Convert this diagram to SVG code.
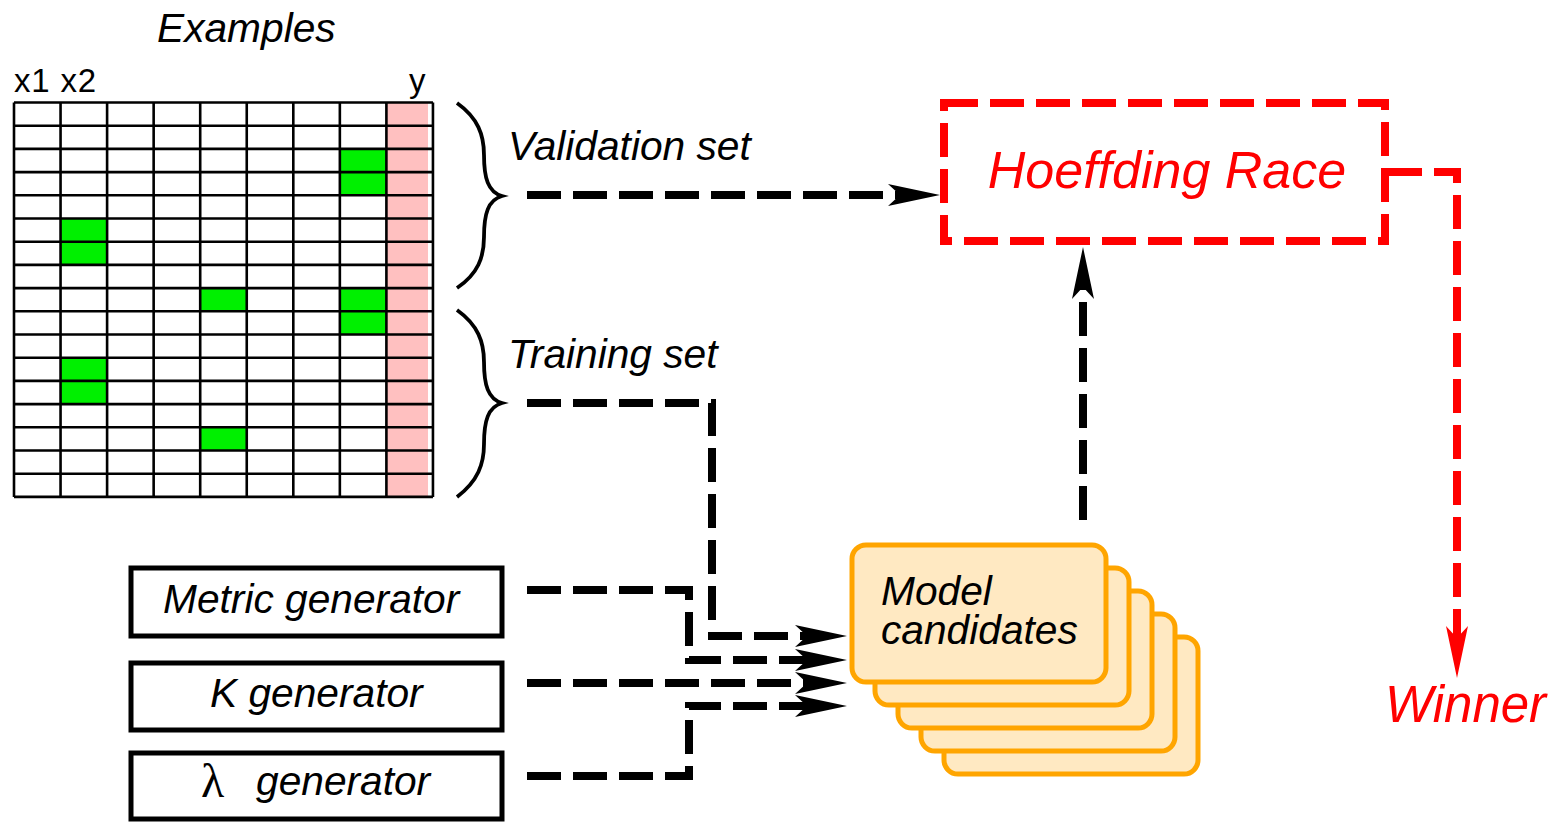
<svg xmlns="http://www.w3.org/2000/svg" width="1555" height="823" viewBox="0 0 1555 823">
<style>
text { font-family: "Liberation Sans", Arial, sans-serif; }
.lbl { font-size: 40.7px; font-style: italic; fill: #000; }
.red { font-style: italic; fill: #ff0000; }
.hdr { font-size: 33px; fill: #000; letter-spacing: 0.8px; }
.grid { stroke: #000; stroke-width: 2.6; fill: none; }
.gen { fill: #fff; stroke: #000; stroke-width: 5; }
.card { fill: #ffe9c2; stroke: #ffa500; stroke-width: 5; }
.brace { fill: none; stroke: #000; stroke-width: 3.8; }
.conn { fill: none; stroke: #000; stroke-width: 8; stroke-dasharray: 34 12; }
.connr { fill: none; stroke: #ff0000; stroke-width: 8; stroke-dasharray: 34 12; }
</style>
<defs>
<marker id="ah" viewBox="-14 -13 56 26" markerWidth="56" markerHeight="26" refX="0" refY="0" orient="auto" markerUnits="userSpaceOnUse">
<path d="M40,0 L-12,-11 L0,0 L-12,11 Z" fill="#000"/>
</marker>
<marker id="ahr" viewBox="-14 -13 56 26" markerWidth="56" markerHeight="26" refX="0" refY="0" orient="auto" markerUnits="userSpaceOnUse">
<path d="M40,0 L-12,-11 L0,0 L-12,11 Z" fill="#ff0000"/>
</marker>
</defs>
<rect width="1555" height="823" fill="#fff"/>

<g id="examples">
<text class="lbl" x="157" y="42">Examples</text>
<text class="hdr" x="14" y="92">x1 x2</text>
<text class="hdr" x="409" y="92">y</text>
<rect x="386.4" y="102.5" width="41.6" height="394.4" fill="#ffc0c0"/>
<g fill="#00f000">
<rect x="339.85" y="148.9" width="46.55" height="46.4"/>
<rect x="60.55" y="218.5" width="46.55" height="46.4"/>
<rect x="200.2" y="288.1" width="46.55" height="23.2"/>
<rect x="339.85" y="288.1" width="46.55" height="46.4"/>
<rect x="60.55" y="357.7" width="46.55" height="46.4"/>
<rect x="200.2" y="427.3" width="46.55" height="23.2"/>
</g>
<path class="grid" d="M14,102.5V496.9M60.55,102.5V496.9M107.1,102.5V496.9M153.65,102.5V496.9M200.2,102.5V496.9M246.75,102.5V496.9M293.3,102.5V496.9M339.85,102.5V496.9M386.4,102.5V496.9M432.95,102.5V496.9
M14,102.5H432.95M14,125.7H432.95M14,148.9H432.95M14,172.1H432.95M14,195.3H432.95M14,218.5H432.95M14,241.7H432.95M14,264.9H432.95M14,288.1H432.95M14,311.3H432.95M14,334.5H432.95M14,357.7H432.95M14,380.9H432.95M14,404.1H432.95M14,427.3H432.95M14,450.5H432.95M14,473.7H432.95M14,496.9H432.95"/>
</g>

<g id="validation-set">
<path class="brace" d="M457,103 C478,118 484,135 484,155 C484,178 488,192 502,196 C488,200 484,214 484,237 C484,257 478,274 457,288"/>
<text class="lbl" x="508" y="160">Validation set</text>
</g>

<g id="training-set">
<path class="brace" d="M457,310 C478,325 484,342 484,362 C484,385 488,399 502,403 C488,407 484,421 484,444 C484,464 478,481 457,497"/>
<text class="lbl" x="508" y="368">Training set</text>
</g>

<g id="metric-generator">
<rect class="gen" x="131" y="568" width="371" height="68"/>
<text class="lbl" x="163" y="613">Metric generator</text>
</g>
<g id="k-generator">
<rect class="gen" x="131" y="663" width="371" height="67"/>
<text class="lbl" x="210" y="707">K generator</text>
</g>
<g id="lambda-generator">
<rect class="gen" x="131" y="753" width="371" height="66"/>
<text class="lbl" x="201" y="797"><tspan style="font-style:normal;font-family:'Liberation Serif',serif;font-size:48px">λ</tspan><tspan x="256" y="795">generator</tspan></text>
</g>

<g id="model-candidates">
<rect class="card" x="944" y="637" width="254" height="137" rx="14"/>
<rect class="card" x="921" y="614" width="254" height="137" rx="14"/>
<rect class="card" x="898" y="591" width="254" height="137" rx="14"/>
<rect class="card" x="875" y="568" width="254" height="137" rx="14"/>
<rect class="card" x="852" y="545" width="254" height="137" rx="14"/>
<text class="lbl" x="881" y="605">Model</text>
<text class="lbl" x="881" y="644">candidates</text>
</g>

<g id="hoeffding-race">
<rect x="944" y="103" width="441" height="138" fill="none" stroke="#ff0000" stroke-width="8" stroke-dasharray="34 12"/>
<text class="red" x="1167" y="188" text-anchor="middle" font-size="52">Hoeffding Race</text>
</g>

<g id="winner">
<text class="red" x="1385" y="722" font-size="51">Winner</text>
</g>

<g id="connectors">
<path class="conn" d="M527,195 H900" marker-end="url(#ah)"/>
<path class="conn" d="M527,403 H712 V636 H807" marker-end="url(#ah)"/>
<path class="conn" d="M527,590 H689 V660 H807" marker-end="url(#ah)"/>
<path class="conn" d="M527,683 H807" marker-end="url(#ah)"/>
<path class="conn" d="M527,776 H689 V706 H807" marker-end="url(#ah)"/>
<path class="conn" d="M1083,520 V287" marker-end="url(#ah)"/>
<path class="connr" d="M1388,172 H1457 V638" marker-end="url(#ahr)"/>
</g>
</svg>
